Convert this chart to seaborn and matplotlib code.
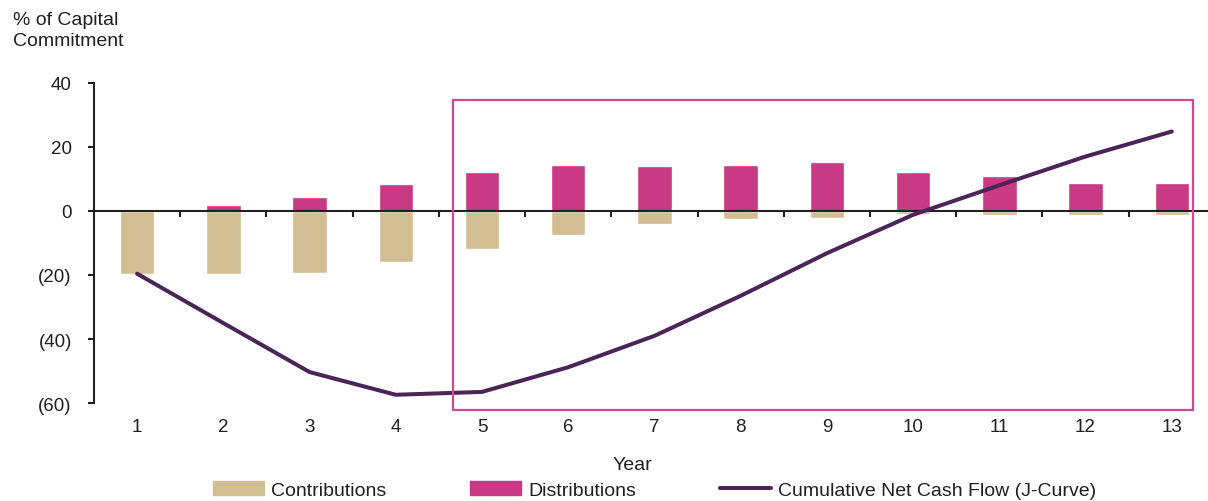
import numpy as np
import pandas as pd
import seaborn as sns
import matplotlib.pyplot as plt
from matplotlib.patches import Patch, Rectangle
from matplotlib.lines import Line2D

# values (% of capital commitment)
years = list(range(1, 14))
contributions = [-19.7, -19.7, -19.3, -15.8, -11.9, -7.4, -4.1, -2.4, -2.1, -1.0, -1.2, -1.2, -1.2]
distributions = [0.0, 2.0, 4.5, 8.5, 12.2, 14.5, 14.1, 14.4, 15.3, 12.2, 10.9, 8.7, 8.7]
cumulative = [-19.6, -35.0, -50.3, -57.4, -56.5, -48.8, -39.0, -26.5, -13.2, -1.2, 8.0, 17.0, 24.8]
ytick_vals = [-60, -40, -20, 0, 20, 40]
ytick_labels = ["(60)", "(40)", "(20)", "0", "20", "40"]

df = pd.DataFrame({"Year": years, "Contributions": contributions,
                   "Distributions": distributions, "Cumulative": cumulative})

tan = "#D2BE93"
pink = "#C93A84"
purple = "#4B2458"
dark = "#231F20"

sns.set_style("white")
plt.rcParams["font.family"] = ["Liberation Sans", "DejaVu Sans"]

fig = plt.figure(figsize=(12.08, 5.02), dpi=100)
ax = fig.add_axes([0.0778, 0.195, 0.9222, 0.638])

sns.barplot(data=df, x="Year", y="Contributions", native_scale=True, width=0.4,
            color=tan, saturation=1, ax=ax, zorder=2)
sns.barplot(data=df, x="Year", y="Distributions", native_scale=True, width=0.4,
            color=pink, saturation=1, ax=ax, zorder=2)
sns.lineplot(data=df, x="Year", y="Cumulative", color=purple, lw=2.9, ax=ax, zorder=4)

ax.set_xlim(0.5, 13.42)
ax.set_ylim(-60, 40)

# spines: left axis, zero line as the x axis
for s in ["top", "right"]:
    ax.spines[s].set_visible(False)
ax.spines["left"].set_color(dark)
ax.spines["left"].set_linewidth(1.5)
ax.spines["bottom"].set_position(("data", 0))
ax.spines["bottom"].set_color(dark)
ax.spines["bottom"].set_linewidth(1.5)
ax.spines["bottom"].set_zorder(3)

ax.set_yticks(ytick_vals)
ax.set_yticklabels(ytick_labels)
ax.tick_params(axis="y", direction="out", length=4, width=1.5, color=dark,
               labelsize=13.5, labelcolor=dark, pad=12, left=True)
ax.set_xticks([y + 0.5 for y in years[:-1]])
ax.set_xticklabels([])
ax.tick_params(axis="x", direction="out", length=4, width=1.5, color=dark, bottom=True)
ax.set_xlabel("")
ax.set_ylabel("")

# year labels along the bottom
sec = ax.secondary_xaxis("bottom")
sec.set_xticks(years)
sec.set_xticklabels([str(y) for y in years])
sec.tick_params(length=0, pad=11, labelsize=13.5, labelcolor=dark)
sec.spines["bottom"].set_visible(False)

# highlight box around years 5-13
ax.add_patch(Rectangle((4.662, -62.1), 13.25 - 4.662, 34.5 + 62.1, fill=False,
                       edgecolor="#D04A8E", lw=1.6, clip_on=False, zorder=5))

fig.text(13 / 1208, 1 - 12 / 502, "% of Capital\nCommitment", ha="left", va="top",
         fontsize=14, color=dark, linespacing=1.3)
fig.text(632 / 1208, 1 - 466 / 502, "Year", ha="center", va="center",
         fontsize=14, color=dark)

handles = [Patch(color=tan, label="Contributions"),
           Patch(color=pink, label="Distributions"),
           Line2D([], [], color=purple, lw=2.9, label="Cumulative Net Cash Flow (J-Curve)")]
fig.legend(handles=handles, loc="center", bbox_to_anchor=(0.542, 0.022), ncol=3,
           frameon=False, fontsize=14, handlelength=2.6, handletextpad=0.4,
           columnspacing=4.3, labelcolor=dark, borderpad=0.2)

fig.savefig("out.png", dpi=100)
